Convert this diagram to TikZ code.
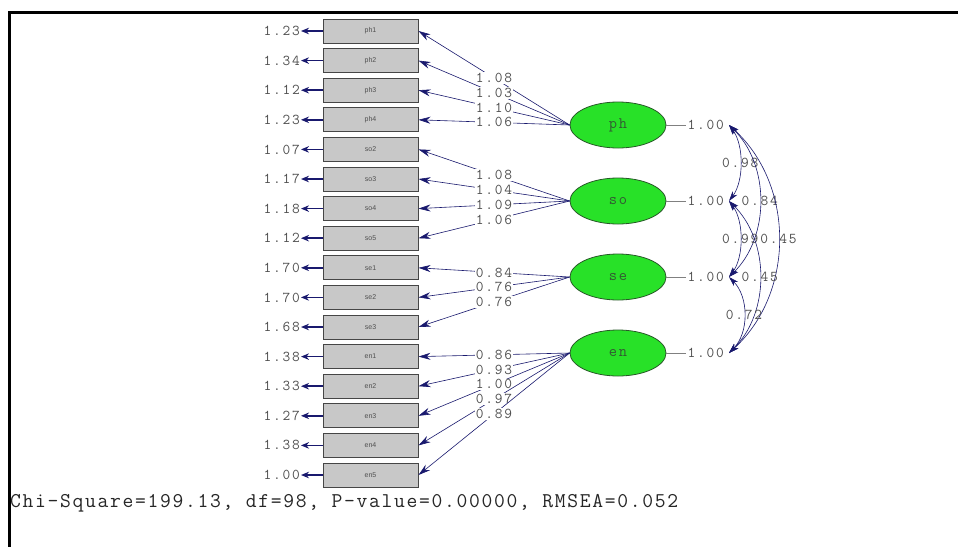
\documentclass[tikz,border=0pt]{standalone}
\usepackage{fontspec}
\newfontfamily\numfont[LetterSpace=12]{Latin Modern Mono}
\newfontfamily\chifont[LetterSpace=8]{Latin Modern Mono}
\newfontfamily\boxfont{Liberation Sans}
\usetikzlibrary{arrows.meta,shapes.geometric}
\definecolor{navy}{RGB}{25,25,110}
\definecolor{numgray}{RGB}{80,80,80}
\definecolor{boxfill}{RGB}{200,200,200}
\definecolor{boxline}{RGB}{70,70,70}
\definecolor{latgreen}{RGB}{40,225,40}
\definecolor{latline}{RGB}{40,90,40}
\definecolor{lattext}{RGB}{50,90,50}
\begin{document}
\begin{tikzpicture}[x=1pt,y=-1pt,
  obs/.style={draw=boxline, fill=boxfill, line width=1pt, minimum width=95pt, minimum height=24pt, inner sep=0pt, font=\boxfont\fontsize{7}{8}\selectfont, text=numgray},
  lat/.style={ellipse, draw=latline, fill=latgreen, line width=0.8pt, minimum width=96pt, minimum height=46pt, inner sep=0pt, font=\numfont\fontsize{16}{18}\selectfont, text=lattext},
  num/.style={font=\numfont\fontsize{15}{17}\selectfont, text=numgray, inner sep=1pt},
  lab/.style={num, fill=white, pos=0.5},
  load/.style={draw=navy, line width=0.6pt, -{Stealth[length=12pt,width=7pt]}},
  err/.style={draw=navy, line width=1.5pt, -{Stealth[length=8pt,width=6.5pt]}},
  varl/.style={draw=gray, line width=0.5pt},
  cov/.style={draw=navy, line width=0.6pt, {Stealth[length=10pt,width=6pt]}-{Stealth[length=10pt,width=6pt]}}
]
\useasboundingbox (0,0) rectangle (958,547);
\fill[white] (0,0) rectangle (958,547);
\draw[line width=3pt] (958,12) -- (9,12) -- (9,547);

% observed variables
\foreach \n/\t/\r [count=\i from 0] in {ph1/ph1/1.23, ph2/ph2/1.34, ph3/ph3/1.12, ph4/ph4/1.23, so2/so2/1.07, so3/so3/1.17, so4/so4/1.18, so5/so5/1.12, se1/se1/1.70, se2/se2/1.70, se3/se3/1.68, en1/en1/1.38, en2/en2/1.33, en3/en3/1.27, en4/en4/1.38, en5/en5/1.00}{
  \node[obs] (\n) at (370.5, {31+29.6*\i}) {\t};
  \node[num, anchor=east] (r\n) at (301, {31+29.6*\i}) {\r};
  \draw[err] (\n.west) -- (r\n.east);
}

% latent variables
\node[lat] (ph) at (618,125) {ph};
\node[lat] (so) at (618,201) {so};
\node[lat] (se) at (618,277) {se};
\node[lat] (en) at (618,353) {en};

% loadings
\draw[load] (ph.west) -- node[lab]{1.08} (ph1.east);
\draw[load] (ph.west) -- node[lab]{1.03} (ph2.east);
\draw[load] (ph.west) -- node[lab]{1.10} (ph3.east);
\draw[load] (ph.west) -- node[lab]{1.06} (ph4.east);
\draw[load] (so.west) -- node[lab]{1.08} (so2.east);
\draw[load] (so.west) -- node[lab]{1.04} (so3.east);
\draw[load] (so.west) -- node[lab]{1.09} (so4.east);
\draw[load] (so.west) -- node[lab]{1.06} (so5.east);
\draw[load] (se.west) -- node[lab]{0.84} (se1.east);
\draw[load] (se.west) -- node[lab]{0.76} (se2.east);
\draw[load] (se.west) -- node[lab]{0.76} (se3.east);
\draw[load] (en.west) -- node[lab]{0.86} (en1.east);
\draw[load] (en.west) -- node[lab]{0.93} (en2.east);
\draw[load] (en.west) -- node[lab]{1.00} (en3.east);
\draw[load] (en.west) -- node[lab]{0.97} (en4.east);
\draw[load] (en.west) -- node[lab]{0.89} (en5.east);

% variances
\foreach \f in {ph,so,se,en}{
  \node[num, anchor=west] (v\f) at ([xshift=20pt]\f.east) {1.00};
  \draw[varl] (\f.east) -- (v\f.west);
}
\coordinate (cph) at (729,125);
\coordinate (cso) at (729,201);
\coordinate (cse) at (729,277);
\coordinate (cen) at (729,353);

% covariances
\draw[cov] (cph) .. controls +(15,20) and +(15,-20) .. node[num, pos=0.5]{0.98} (cso);
\draw[cov] (cph) .. controls +(41,40) and +(41,-40) .. node[num, pos=0.5]{0.84} (cse);
\draw[cov] (cph) .. controls +(66,60) and +(66,-60) .. node[num, pos=0.5]{0.45} (cen);
\draw[cov] (cso) .. controls +(15,20) and +(15,-20) .. node[num, pos=0.5]{0.99} (cse);
\draw[cov] (cso) .. controls +(41,40) and +(41,-40) .. node[num, pos=0.5]{0.45} (cen);
\draw[cov] (cse) .. controls +(20,20) and +(20,-20) .. node[num, pos=0.5]{0.72} (cen);

\node[anchor=west, font=\chifont\fontsize{21}{24}\selectfont, text=black!85, inner sep=0pt] (chi) at (10,503) {Chi-Square=199.13, df=98, P-value=0.00000, RMSEA=0.052};
\end{tikzpicture}
\end{document}
